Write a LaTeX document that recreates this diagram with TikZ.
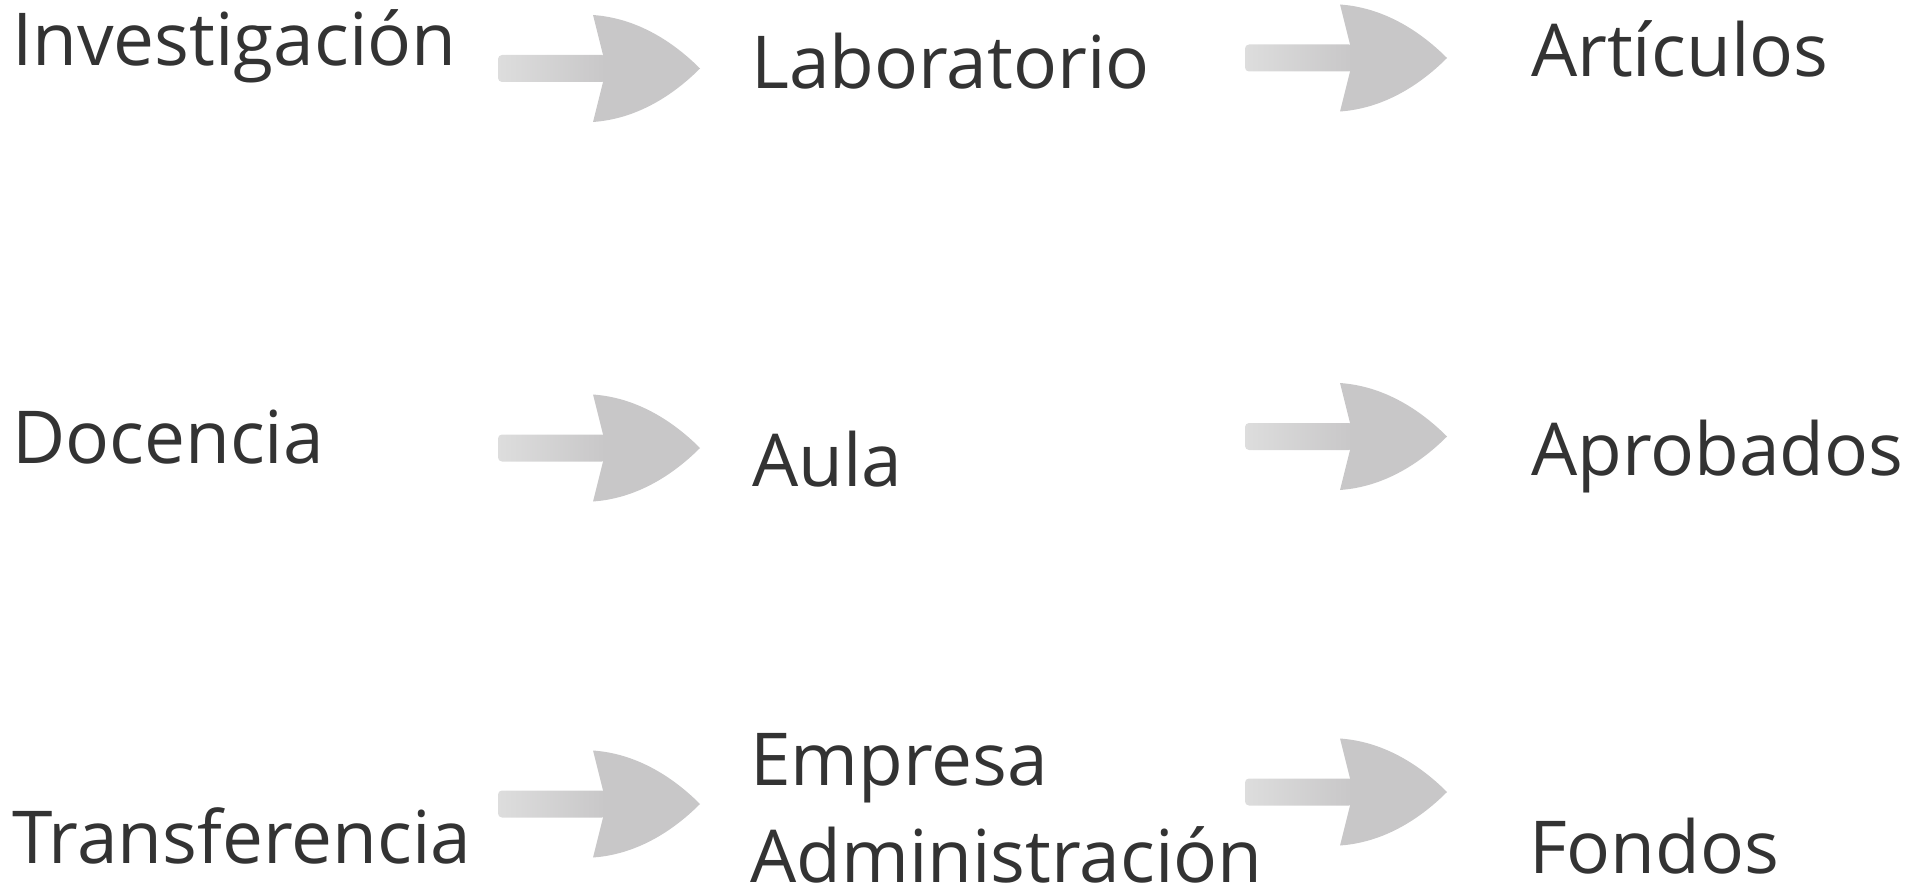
\documentclass[tikz,border=0pt]{standalone}
\usepackage{fontspec}
\setmainfont{Open Sans}
\definecolor{txt}{RGB}{51,51,51}
\definecolor{arrowL}{RGB}{221,221,221}
\definecolor{arrowR}{RGB}{200,199,200}
\tikzset{
  lbl/.style={anchor=base west, inner sep=0pt, text=txt, font=\fontsize{73}{97}\selectfont, align=left},
  bigarrow/.pic={
    \shade[left color=arrowL, right color=arrowR, rounded corners=4pt]
      (0,-13.5) -- (108,-13.5) -- (108,13.5) -- (0,13.5) -- cycle;
    \fill[arrowR] (95,-53.5) -- (105,-13.5) -- (105,13.5) -- (95,53.5)
      .. controls (145,50) and (182,20) .. (202,0)
      .. controls (182,-20) and (145,-50) .. (95,-53.5) -- cycle;
  }
}
\begin{document}
\begin{tikzpicture}[x=1pt,y=-1pt]
\useasboundingbox (0,0) rectangle (1925,888);
% text nodes
\node[lbl] (inv) at (12,66) {Investigación};
\node[lbl] (lab) at (751,89) {Laboratorio};
\node[lbl] (art) at (1531,77) {Artículos};
\node[lbl] (doc) at (12,463) {Docencia};
\node[lbl] (aula) at (752,486) {Aula};
\node[lbl] (apr) at (1531,475) {Aprobados};
\node[lbl] (tra) at (12,863) {Transferencia};
\node[lbl] (emp) at (750,882) {Empresa\\Administración};
\node[lbl] (fon) at (1529,873) {Fondos};
% arrows
\coordinate (a1) at (498,68.5);
\coordinate (a2) at (1245,58);
\coordinate (a3) at (498,448);
\coordinate (a4) at (1245,436.5);
\coordinate (a5) at (498,804);
\coordinate (a6) at (1245,792);
\foreach \c in {a1,a2,a3,a4,a5,a6}{
  \pic[shift={(\c)}] {bigarrow};
}
\end{tikzpicture}
\end{document}
